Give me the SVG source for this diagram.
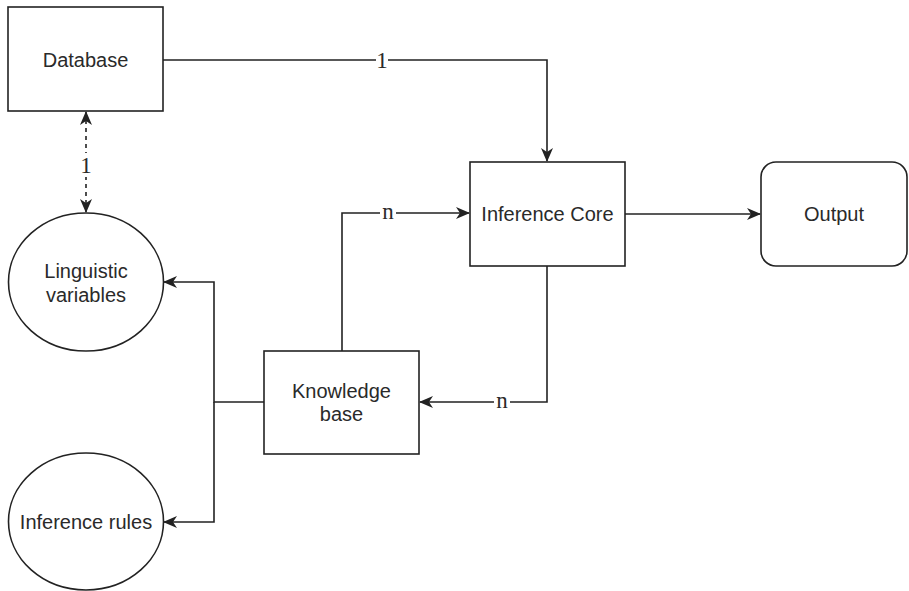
<svg xmlns="http://www.w3.org/2000/svg" width="909" height="591" viewBox="0 0 909 591">
  <style>
    .shape { fill: #ffffff; stroke: #222222; stroke-width: 1.6; }
    .txt { font-family: "Liberation Sans", Arial, sans-serif; font-size: 20px; fill: #2a2a2a; text-anchor: middle; }
    .edge { fill: none; stroke: #222222; stroke-width: 1.6; }
    .dash { stroke-dasharray: 4 4; }
    .lbl { font-family: "Liberation Serif", "Times New Roman", serif; font-size: 23px; fill: #2a2a2a; text-anchor: middle; }
    .lblbg { fill: #ffffff; }
  </style>
  <defs>
    <marker id="arrow" viewBox="0 0 14 12" refX="13" refY="6" markerWidth="14" markerHeight="12" markerUnits="userSpaceOnUse" orient="auto-start-reverse">
      <path d="M0,0 L14,6 L0,12 L4,6 Z" fill="#222222"/>
    </marker>
  </defs>
  <rect width="909" height="591" fill="#ffffff"/>

  <g id="connectors">
    <path class="edge" d="M163,60 H547 V161" marker-end="url(#arrow)"/>
    <path class="edge dash" d="M86,112 V212" marker-start="url(#arrow)" marker-end="url(#arrow)"/>
    <path class="edge" d="M342,351 V213 H469" marker-end="url(#arrow)"/>
    <path class="edge" d="M547,266 V402 H420" marker-end="url(#arrow)"/>
    <path class="edge" d="M625,214 H760" marker-end="url(#arrow)"/>
    <path class="edge" d="M264,402 H214 V282 H164" marker-end="url(#arrow)"/>
    <path class="edge" d="M214,402 V522 H164" marker-end="url(#arrow)"/>
    <rect class="lblbg" x="376" y="50" width="12" height="20"/>
    <text class="lbl" x="382" y="68">1</text>
    <rect class="lblbg" x="80" y="153" width="12" height="24"/>
    <text class="lbl" x="86" y="173">1</text>
    <rect class="lblbg" x="380" y="204" width="16" height="18"/>
    <text class="lbl" x="388" y="219">n</text>
    <rect class="lblbg" x="494" y="393" width="16" height="18"/>
    <text class="lbl" x="502" y="408">n</text>
  </g>

  <g id="database">
    <rect class="shape" x="8" y="7" width="155" height="104"/>
    <text class="txt" x="85.5" y="67">Database</text>
  </g>
  <g id="linguistic-variables">
    <ellipse class="shape" cx="86" cy="282" rx="77.5" ry="69"/>
    <text class="txt" x="86" y="278">Linguistic</text>
    <text class="txt" x="86" y="302">variables</text>
  </g>
  <g id="inference-rules">
    <ellipse class="shape" cx="86" cy="521.5" rx="77.5" ry="68.5"/>
    <text class="txt" x="86" y="529">Inference rules</text>
  </g>
  <g id="knowledge-base">
    <rect class="shape" x="264" y="351" width="155" height="103"/>
    <text class="txt" x="341.5" y="398">Knowledge</text>
    <text class="txt" x="341.5" y="421">base</text>
  </g>
  <g id="inference-core">
    <rect class="shape" x="470" y="162" width="155" height="104"/>
    <text class="txt" x="547.5" y="221">Inference Core</text>
  </g>
  <g id="output">
    <rect class="shape" x="761" y="162" width="146" height="104" rx="15" ry="15"/>
    <text class="txt" x="834" y="221">Output</text>
  </g>
</svg>
